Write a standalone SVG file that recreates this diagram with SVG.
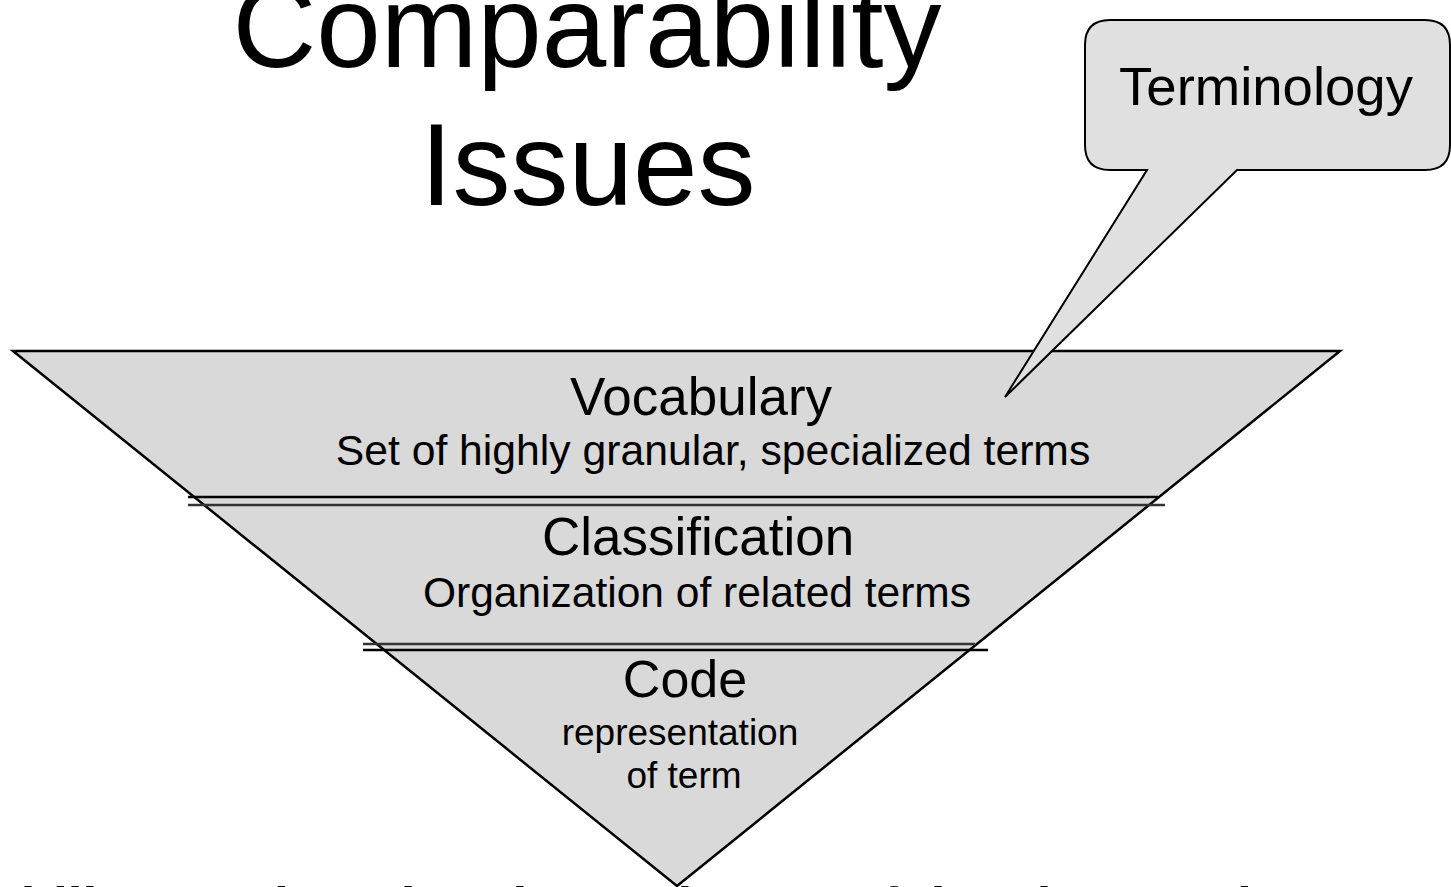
<svg xmlns="http://www.w3.org/2000/svg" width="1451" height="887" viewBox="0 0 1451 887">
<style>
.t{font-family:"Liberation Sans",Arial,sans-serif;fill:#000;text-anchor:middle}
.b{font-family:"Liberation Sans",Arial,sans-serif;font-weight:bold;fill:#000}
.sep{stroke-width:2.5;fill:none}
</style>
<rect width="1451" height="887" fill="#fff"/>
<g id="title">
<text class="t" x="587" y="67" font-size="116">Comparability</text>
<text class="t" x="588" y="205" font-size="116">Issues</text>
</g>
<g id="bottom-text">
<text class="b" x="-209" y="925" font-size="53">Comparability requires that the exchange of data be consistent</text>
</g>
<g id="pyramid">
<polygon points="13,351 1340,351 677,886" fill="#d9d9d9" stroke="#000" stroke-width="2.5" stroke-linejoin="miter"/>
</g>
<g id="connectors">
<line class="sep" x1="188" y1="497" x2="1158" y2="497" stroke="#000"/>
<line class="sep" x1="188" y1="505" x2="1165" y2="505" stroke="#333"/>
<line class="sep" x1="363" y1="644" x2="975" y2="644" stroke="#333"/>
<line class="sep" x1="363" y1="650" x2="988" y2="650" stroke="#000"/>
</g>
<g id="vocabulary">
<text class="t" x="701" y="415" font-size="53">Vocabulary</text>
<text class="t" x="713" y="465" font-size="42.7">Set of highly granular, specialized terms</text>
</g>
<g id="classification">
<text class="t" x="698" y="555" font-size="53">Classification</text>
<text class="t" x="697" y="607" font-size="42.5">Organization of related terms</text>
</g>
<g id="code">
<text class="t" x="685" y="697" font-size="52">Code</text>
<text class="t" x="680" y="745" font-size="37">representation</text>
<text class="t" x="684" y="788" font-size="37">of term</text>
</g>
<g id="terminology">
<path d="M1110,20 H1425 Q1450,20 1450,45 V145 Q1450,170 1425,170 H1237 L1005,397 L1147,170 H1110 Q1085,170 1085,145 V45 Q1085,20 1110,20 Z" fill="#e0e0e0" stroke="#000" stroke-width="2"/>
<text class="t" x="1266" y="105" font-size="54.5">Terminology</text>
</g>
</svg>
